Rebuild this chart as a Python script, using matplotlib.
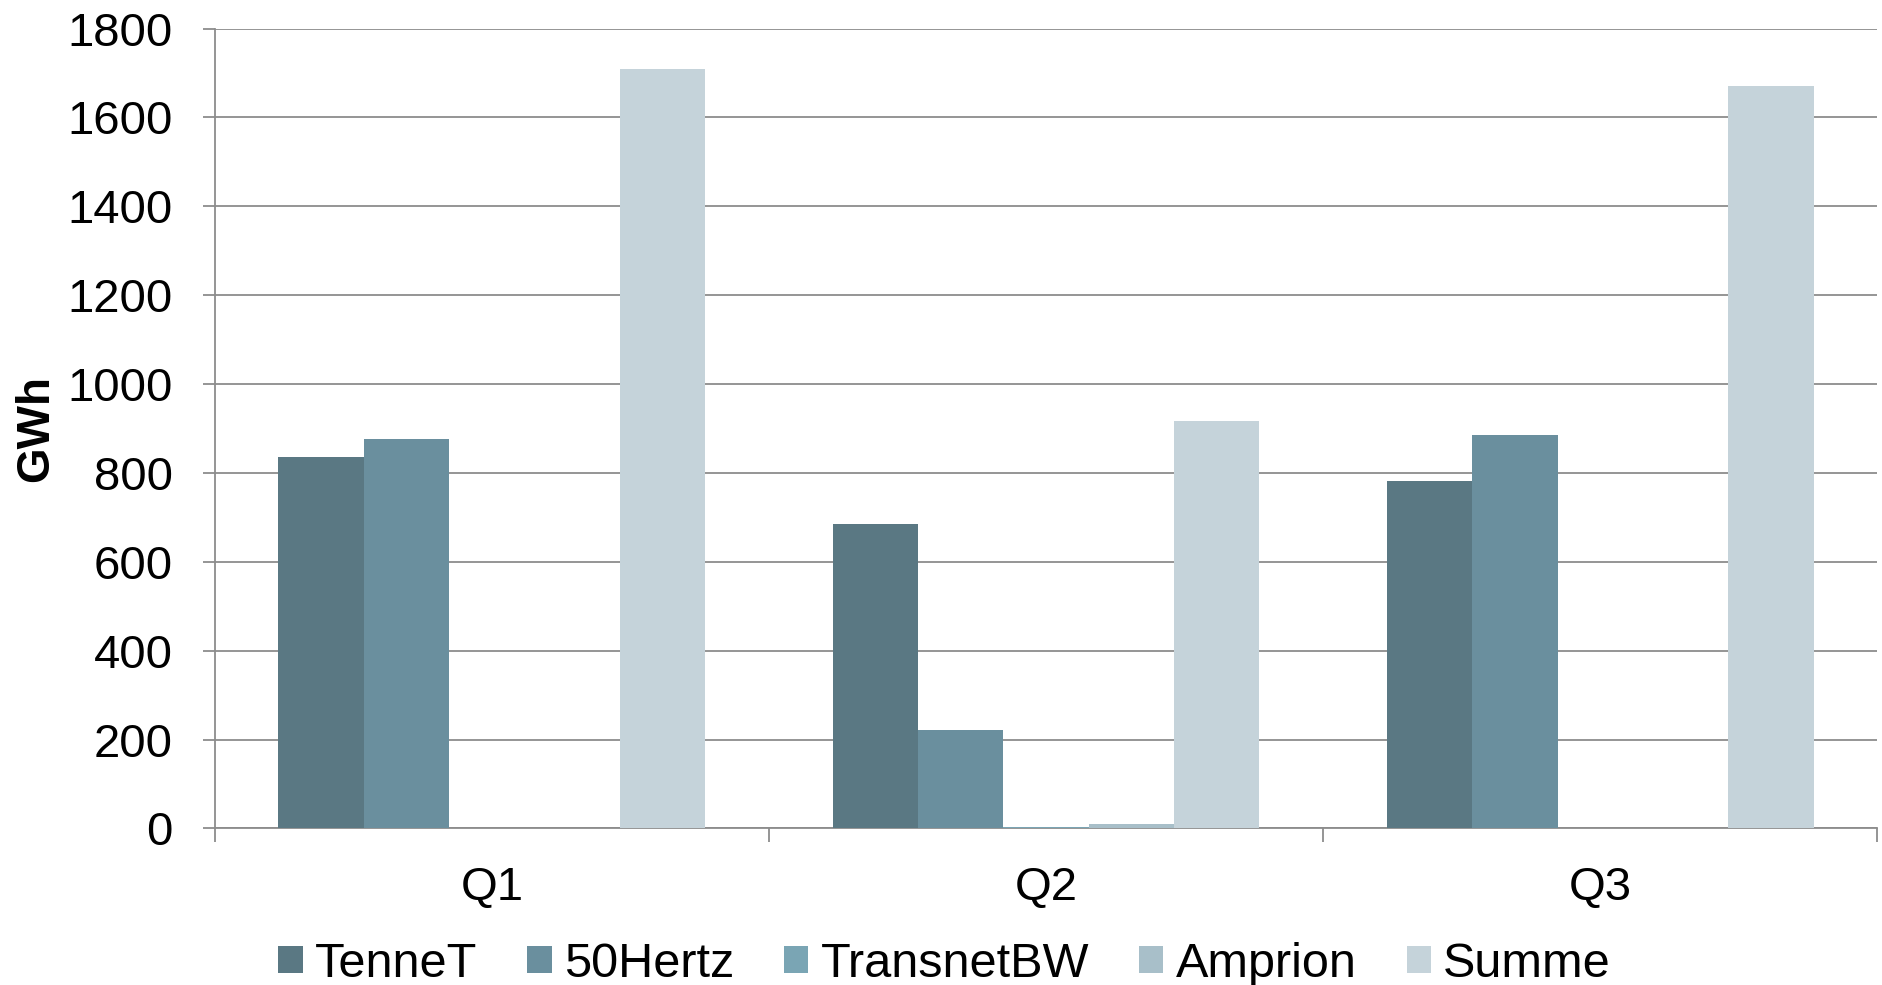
import matplotlib
matplotlib.use("Agg")
import matplotlib.pyplot as plt
import numpy as np

plt.rcParams['font.family'] = ['Liberation Sans', 'DejaVu Sans']

quarters = ["Q1", "Q2", "Q3"]
series_names = ["TenneT", "50Hertz", "TransnetBW", "Amprion", "Summe"]
tennet = [835, 684, 781]
hertz50 = [876, 222, 886]
transnetbw = [0, 3, 0]
amprion = [0, 9, 0]
summe = [1708, 916, 1670]
colors = ["#5a7883", "#6a8f9e", "#7aa5b4", "#a8bfc9", "#c5d3da"]

values = [tennet, hertz50, transnetbw, amprion, summe]

fig = plt.figure(figsize=(18.83, 9.85), dpi=100)
ax = fig.add_axes([0.114, 0.159, 0.883, 0.812])

x = np.arange(len(quarters))
width = 0.154
for i, (name, vals) in enumerate(zip(series_names, values)):
  offset = (i - 2) * width
  ax.bar(x + offset, vals, width, label=name, color=colors[i], zorder=3)

ax.set_xlim(-0.5, len(quarters) - 0.5)
ax.set_ylim(0, 1800)
ax.set_yticks(range(0, 1801, 200))
ax.yaxis.grid(True, color='#8c8c8c', linewidth=1.3, zorder=0)

ax.set_xticks(x)
ax.set_xticklabels(quarters)
ax.set_xticks(np.arange(-0.5, len(quarters)), minor=True)
ax.tick_params(axis='x', which='major', length=0, pad=27, labelsize=34)
ax.tick_params(axis='x', which='minor', length=10, width=1.3, color='#8c8c8c')
ax.tick_params(axis='y', length=9, width=1.3, color='#8c8c8c', labelsize=34, pad=21)

for s in ['top', 'right']:
  ax.spines[s].set_visible(False)
ax.spines['left'].set_color('#8c8c8c')
ax.spines['left'].set_linewidth(1.3)
ax.spines['bottom'].set_color('#8c8c8c')
ax.spines['bottom'].set_linewidth(1.3)

ax.set_ylabel('GWh', fontsize=33, fontweight='bold')
ax.yaxis.set_label_coords(-0.094, 0.5)

ax.legend(loc='center', bbox_to_anchor=(0.439, -0.17), ncol=5, frameon=False,
          fontsize=35, handlelength=0.5, handleheight=0.5, handletextpad=0.25, columnspacing=1.03)

fig.savefig("out.png", dpi=100)
